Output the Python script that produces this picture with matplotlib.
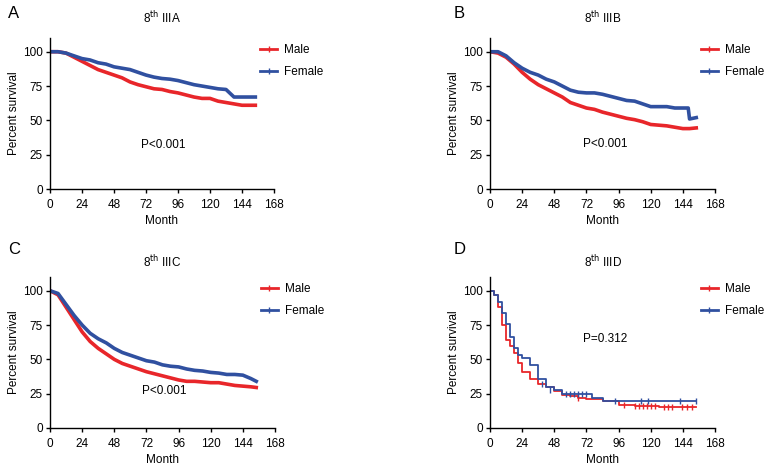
import matplotlib
matplotlib.use("Agg")
import matplotlib.pyplot as plt
from matplotlib.lines import Line2D

plt.rcParams['font.family'] = ['Liberation Sans', 'DejaVu Sans']

red = '#E8262A'
blue = '#3050A0'

# panel A: 8th IIIA
a_t = [0, 6, 12, 18, 24, 30, 36, 42, 48, 54, 60, 66, 72, 78, 84, 90, 96, 102, 108, 114, 120, 126, 132, 138, 144, 150, 154]
a_male = [100, 100, 99, 96, 93, 90, 87, 85, 83, 81, 78, 76, 74.5, 73, 72.5, 71, 70, 68.5, 67, 66, 66, 64, 63, 62, 61, 61, 61]
a_female = [100, 100, 99, 97, 95, 94, 92, 91, 89, 88, 87, 85, 83, 81.5, 80.5, 80, 79, 77.5, 76, 75, 74, 73, 72.5, 67, 67, 67, 67]

# panel B: 8th IIIB
b_t = [0, 6, 12, 18, 24, 30, 36, 42, 48, 54, 60, 66, 72, 78, 84, 90, 96, 102, 108, 114, 120, 126, 132, 138, 144, 148, 149, 154]
b_male = [100, 99, 96, 91, 85, 80, 76, 73, 70, 67, 63, 61, 59, 58, 56, 54.5, 53, 51.5, 50.5, 49, 47, 46.5, 46, 45, 44, 44, 44, 44.5]
b_female = [100, 100, 97, 92, 88, 85, 83, 80, 78, 75, 72, 70.5, 70, 70, 69, 67.5, 66, 64.5, 64, 62, 60, 60, 60, 59, 59, 59, 51, 52]

# panel C: 8th IIIC
c_t = [0, 6, 12, 18, 24, 30, 36, 42, 48, 54, 60, 66, 72, 78, 84, 90, 96, 102, 108, 114, 120, 126, 132, 138, 144, 150, 154]
c_male = [100, 97, 88, 79, 70, 63, 58, 54, 50, 47, 45, 43, 41, 39.5, 38, 36.5, 35, 34, 34, 33.5, 33, 33, 32, 31, 30.5, 30, 29.5]
c_female = [100, 98, 90, 82, 75, 69, 65, 62, 58, 55, 53, 51, 49, 48, 46, 45, 44.5, 43, 42, 41.5, 40.5, 40, 39, 39, 38.5, 36, 34]

# panel D: 8th IIID (step curves)
d_male_t = [0, 3, 6, 9, 12, 15, 18, 21, 24, 30, 36, 42, 48, 54, 60, 66, 72, 84, 96, 108, 126, 154]
d_male = [100, 97, 88, 75, 64, 60, 55, 47, 41, 36, 32, 30, 27, 24, 23, 22, 21, 20, 17, 16, 15, 15]
d_female_t = [0, 3, 6, 9, 12, 15, 18, 21, 24, 30, 36, 42, 48, 54, 60, 72, 76, 84, 96, 154]
d_female = [100, 97, 92, 84, 76, 66, 58, 53, 51, 46, 36, 30, 28, 25, 25, 25, 22, 20, 20, 20]
d_male_cens_t = [66, 100, 108, 111, 114, 117, 120, 123, 130, 133, 136, 143, 147, 151]
d_male_cens = [22, 17, 16, 16, 16, 16, 16, 16, 15, 15, 15, 15, 15, 15]
d_female_cens_t = [39, 45, 57, 60, 63, 66, 69, 72, 93, 113, 118, 142, 154]
d_female_cens = [32, 28, 25, 25, 25, 25, 25, 25, 20, 20, 20, 20, 20]

titles = ['IIIA', 'IIIB', 'IIIC', 'IIID']
letters = ['A', 'B', 'C', 'D']
pvals = ['P<0.001', 'P<0.001', 'P<0.001', 'P=0.312']
p_pos = [(85, 32), (86, 33), (85, 27), (86, 65)]
letter_xy = [(8, 14), (454, 14), (8, 250), (454, 250)]
title_y = [18, 18, 262, 262]

fs = 8.5
fig = plt.figure(figsize=(7.64, 4.68), dpi=100)
rects = [
    [50/764, 1-189/468, 224/764, 151/468],
    [490/764, 1-189/468, 225/764, 151/468],
    [50/764, 1-428/468, 225/764, 151/468],
    [490/764, 1-428/468, 225/764, 151/468],
]

for i, r in enumerate(rects):
    ax = fig.add_axes(r)
    if i == 0:
        ax.plot(a_t, a_male, color=red, lw=2.6)
        ax.plot(a_t, a_female, color=blue, lw=2.6)
    elif i == 1:
        ax.plot(b_t, b_male, color=red, lw=2.6)
        ax.plot(b_t, b_female, color=blue, lw=2.6)
    elif i == 2:
        ax.plot(c_t, c_male, color=red, lw=2.6)
        ax.plot(c_t, c_female, color=blue, lw=2.6)
    else:
        ax.step(d_male_t, d_male, where='post', color=red, lw=1.3)
        ax.step(d_female_t, d_female, where='post', color=blue, lw=1.3)
        ax.plot(d_male_cens_t, d_male_cens, ls='none', marker='|', ms=4, mew=1, color=red)
        ax.plot(d_female_cens_t, d_female_cens, ls='none', marker='|', ms=4, mew=1, color=blue)

    ax.set_xlim(0, 168)
    ax.set_ylim(0, 110)
    ax.set_xticks(range(0, 169, 24))
    ax.set_yticks([0, 25, 50, 75, 100])
    ax.spines['top'].set_visible(False)
    ax.spines['right'].set_visible(False)
    ax.spines['left'].set_linewidth(1)
    ax.spines['bottom'].set_linewidth(1)
    ax.tick_params(labelsize=fs, length=3, width=1, pad=2)
    ax.tick_params(axis='x', pad=4)
    ax.set_xlabel('Month', fontsize=fs, labelpad=3)
    ax.set_ylabel('Percent survival', fontsize=fs, labelpad=2)
    ax.text(p_pos[i][0], p_pos[i][1], pvals[i], fontsize=fs, ha='center', va='center')

    cx = r[0] + r[2] * 0.5
    fig.text(cx, 1 - title_y[i] / 468, '8$^{\\mathrm{th}}$ ' + titles[i],
             fontsize=fs, ha='center', va='center')
    fig.text(letter_xy[i][0] / 764, 1 - letter_xy[i][1] / 468, letters[i],
             fontsize=12, ha='left', va='center')

    handles = [Line2D([0], [0], color=red, lw=2, marker='|', ms=4, mew=1),
               Line2D([0], [0], color=blue, lw=2, marker='|', ms=4, mew=1)]
    ax.legend(handles, ['Male', 'Female'], loc='upper left', bbox_to_anchor=(0.915, 0.99),
              frameon=False, fontsize=fs, handlelength=1.5, handletextpad=0.6,
              labelspacing=0.8, borderaxespad=0)

fig.savefig('out.png', dpi=100)
